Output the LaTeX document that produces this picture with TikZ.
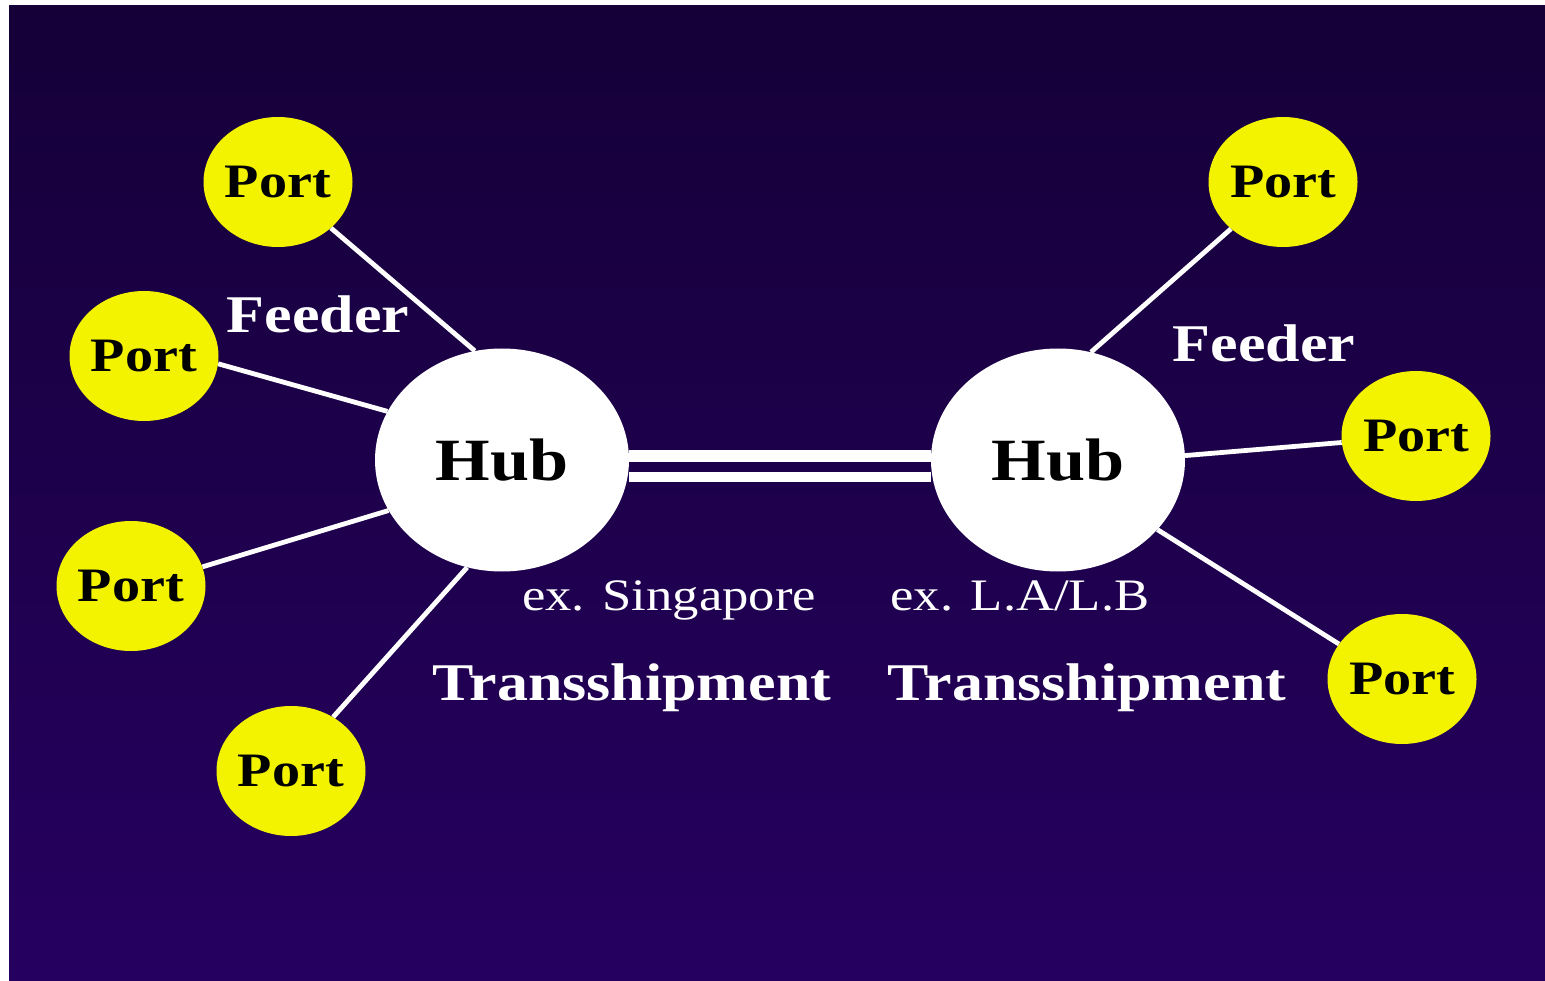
\documentclass[tikz,border=0pt]{standalone}
\usepackage{fontspec}
\setmainfont{Liberation Serif}
\newfontfamily\wideserif[FakeStretch=1.17]{Liberation Serif}
\usetikzlibrary{shapes.geometric}
\definecolor{nighttop}{RGB}{21,0,56}
\definecolor{nightbottom}{RGB}{38,0,96}
\definecolor{portyellow}{RGB}{243,243,0}
\pgfdeclarelayer{backdrop}
\pgfdeclarelayer{links}
\pgfsetlayers{backdrop,links,main}

\begin{document}
\begin{tikzpicture}[x=1pt,y=-1pt,
  port/.style={ellipse, fill=portyellow, minimum width=149pt, minimum height=130pt,
    inner sep=0pt, font=\wideserif\fontsize{48}{48}\selectfont\bfseries},
  hub/.style={ellipse, fill=white, minimum width=254pt, minimum height=223pt,
    inner sep=0pt, font=\wideserif\fontsize{60}{60}\selectfont\bfseries},
  link/.style={draw=white, line width=4.8pt},
  trunk/.style={draw=white},
  caption/.style={text=white, anchor=base, inner sep=0pt,
    font=\wideserif\fontsize{53}{53}\selectfont\bfseries},
  example/.style={text=white, anchor=base, inner sep=0pt,
    font=\wideserif\fontsize{45}{45}\selectfont}]

% page and night-sky backdrop
\begin{pgfonlayer}{backdrop}
  \useasboundingbox[fill=white] (0,0) rectangle (1545,981);
  \shade[top color=nighttop, bottom color=nightbottom] (9,6) rectangle (1545,981);
\end{pgfonlayer}

% hubs
\node[hub] (hubL) at (502,460) {\makebox[0pt]{Hub}};
\node[hub] (hubR) at (1058,460) {\makebox[0pt]{Hub}};

% feeder ports
\node[port] (p1) at (278,182) {\makebox[0pt]{Port}};
\node[port] (p2) at (144,356) {\makebox[0pt]{Port}};
\node[port] (p3) at (131,586) {\makebox[0pt]{Port}};
\node[port] (p4) at (291,771) {\makebox[0pt]{Port}};
\node[port] (p5) at (1283,182) {\makebox[0pt]{Port}};
\node[port] (p6) at (1416,436) {\makebox[0pt]{Port}};
\node[port] (p7) at (1402,679) {\makebox[0pt]{Port}};

% labels
\node[caption] (feedL) at (318,333) {Feeder};
\node[caption] (feedR) at (1264,362) {Feeder};
\node[example] (exL) at (669,610) {ex. Singapore};
\node[example] (exR) at (1020,610) {ex. L.A/L.B};
\node[caption] (tsL) at (632,700) {Transshipment};
\node[caption] (tsR) at (1087,700) {Transshipment};

% feeder links and the hub-to-hub trunk
\begin{pgfonlayer}{links}
  \draw[link] (p1.-41.6) -- (hubL.104.3);
  \draw[link] (p2.-6.2) -- (hubL.157.3);
  \draw[link] (p3.15.1) -- (hubL.204.9);
  \draw[link] (p4.52) -- (hubL.-108.8);
  \draw[link] (p5.222.6) -- (hubR.73.5);
  \draw[link] (hubR.2.3) -- (p6.185.5);
  \draw[link] (hubR.-35.2) -- (p7.151.3);
  \draw[trunk, line width=12pt] ([yshift=4.5pt]hubL.east) -- ([yshift=4.5pt]hubR.west);
  \draw[trunk, line width=10pt] ([yshift=-16.5pt]hubL.east) -- ([yshift=-16.5pt]hubR.west);
\end{pgfonlayer}
\end{tikzpicture}
\end{document}
